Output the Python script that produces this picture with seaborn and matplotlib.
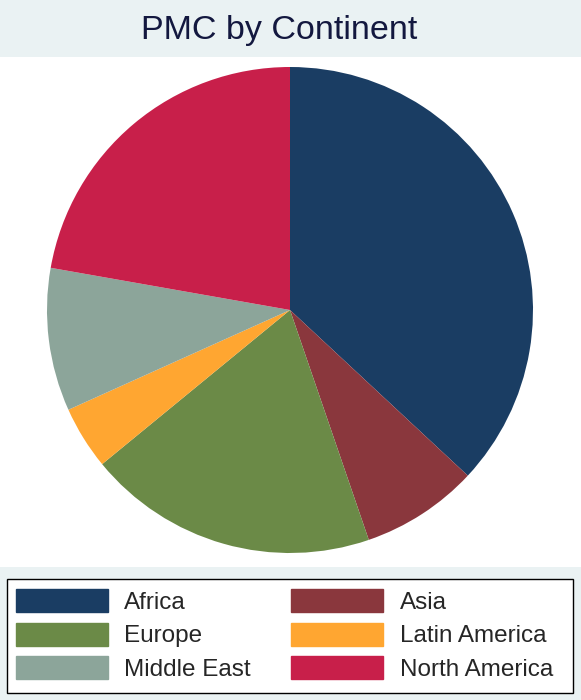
import matplotlib
matplotlib.use("Agg")
import matplotlib.pyplot as plt
import seaborn as sns
from matplotlib.patches import Patch, Rectangle

# Share of PMCs by continent (percent)
continents = ["Africa", "Asia", "Europe", "Latin America", "Middle East", "North America"]
shares = [36.9, 7.8, 19.3, 4.2, 9.5, 22.2]
slice_colors = ["#1A3D63", "#8A373D", "#6B8A47", "#FFA631", "#8CA59A", "#C81F4A"]

sns.set_theme(style="white")
plt.rcParams["font.family"] = ["Liberation Sans", "DejaVu Sans"]

bg = "#EAF2F3"
W, H = 581, 700
fig = plt.figure(figsize=(W / 100, H / 100), dpi=100, facecolor=bg)

# white plot region (pixels 57..567 from top)
ax = fig.add_axes([0, 133 / H, 1, 510 / H])
ax.set_facecolor("white")

palette = sns.color_palette(slice_colors)
wedges, _ = ax.pie(shares, colors=palette, startangle=90, counterclock=False,
                   center=(290, 390), radius=243, frame=True,
                   wedgeprops=dict(linewidth=0))
ax.set_xlim(0, W)
ax.set_ylim(133, 643)
ax.set_aspect("auto")
ax.set_xticks([])
ax.set_yticks([])
for s in ax.spines.values():
    s.set_visible(False)

# title
fig.text(279 / W, 1 - 31 / H, "PMC by Continent", ha="center", va="center",
         fontsize=24.5, color="#13183F")

# legend box
fig.patches.append(Rectangle((7 / W, 7 / H), 566 / W, 114 / H, transform=fig.transFigure,
                             facecolor="white", edgecolor="black", linewidth=1.0))

# legend filled row by row (two columns)
order = [0, 2, 4, 1, 3, 5]
handles = [Patch(facecolor=palette[i], edgecolor=palette[i]) for i in order]
labels = [continents[i] for i in order]
leg = fig.legend(handles, labels, ncol=2, loc="upper left",
                 bbox_to_anchor=(16 / W, 1 - 589 / H),
                 fontsize=17.5, frameon=False,
                 handlelength=3.8, handleheight=1.08, handletextpad=0.66,
                 labelspacing=0.36, borderpad=0, borderaxespad=0,
                 columnspacing=1.65)

fig.savefig("out.png", dpi=100, facecolor=bg)
